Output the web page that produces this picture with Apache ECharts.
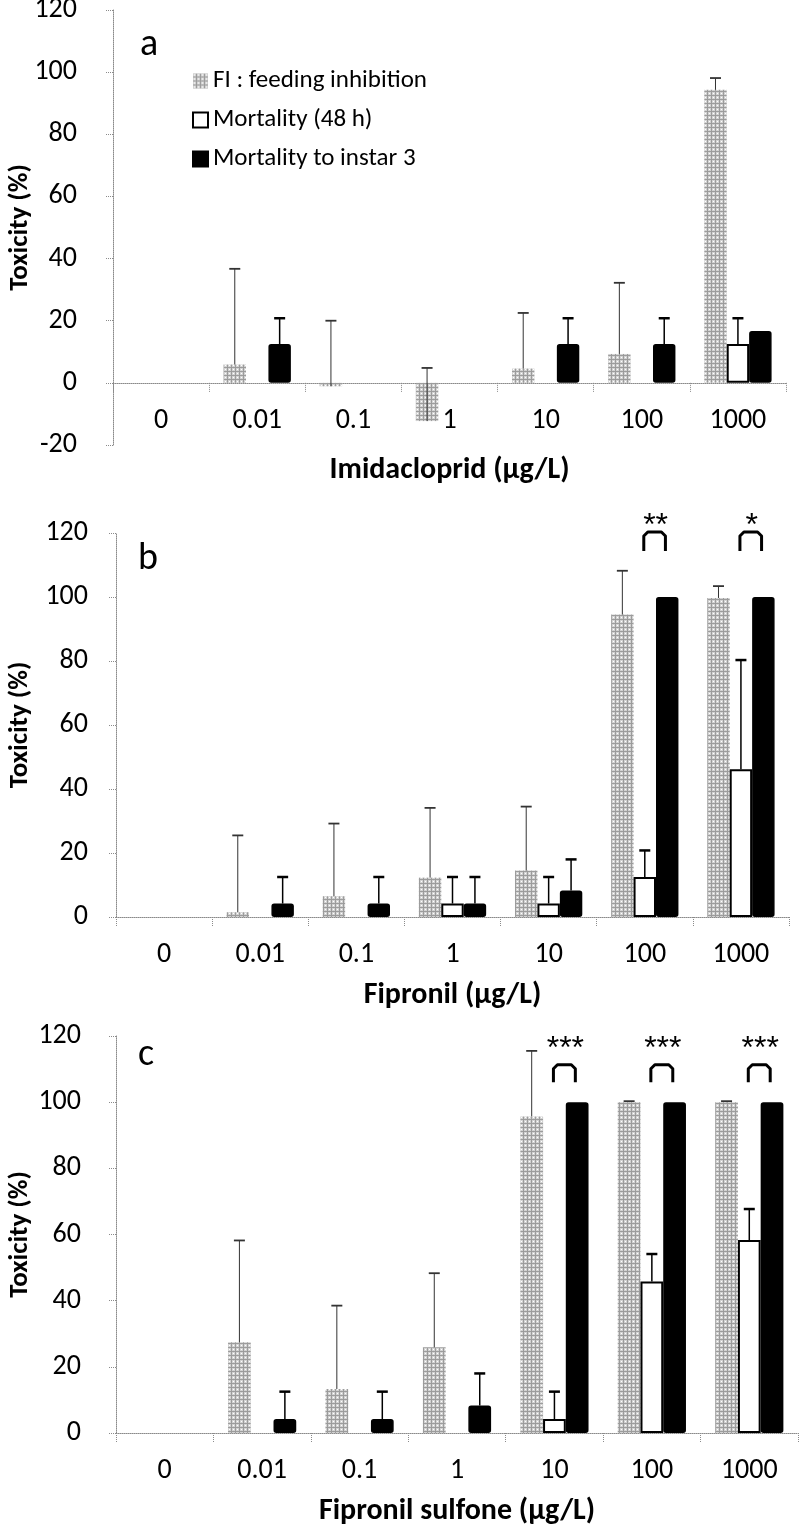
<!DOCTYPE html>
<html><head><meta charset="utf-8">
<script src="https://cdn.jsdelivr.net/npm/echarts@6/dist/echarts.min.js"></script>
<style>html,body{margin:0;padding:0;background:#fff}#c{width:800px;height:1530px}</style>
</head><body><div id="c"></div>
<script>
// ---------- data ----------
const categories = ['0', '0.01', '0.1', '1', '10', '100', '1000'];
const seriesNames = ['FI : feeding inhibition', 'Mortality (48 h)', 'Mortality to instar 3'];
const panelLetters = ['a', 'b', 'c'];
const xTitles = ['Imidacloprid (µg/L)', 'Fipronil (µg/L)', 'Fipronil sulfone (µg/L)'];
const yTitle = 'Toxicity (%)';

// Panel a — Imidacloprid
const fiA = [0, 5.9, -1.1, -12.3, 4.6, 9.3, 94.3];
const fiAErr = [null, 30.8, 21.1, 17.1, 17.9, 22.9, 3.8];
const m48A = [0, 0, 0, 0, 0, 0, 12.5];
const m48AErr = [null, null, null, null, null, null, 8.3];
const mI3A = [0, 12.5, 0, 0, 12.5, 12.5, 16.7];
const mI3AErr = [null, 8.3, null, null, 8.3, 8.3, null];

// Panel b — Fipronil
const fiB = [0, 1.5, 6.5, 12.3, 14.5, 94.5, 99.7];
const fiBErr = [null, 24.0, 22.7, 21.8, 20.0, 13.7, 3.7];
const m48B = [0, 0, 0, 4.2, 4.2, 12.5, 46.2];
const m48BErr = [null, null, null, 8.3, 8.3, 8.3, 34.1];
const mI3B = [0, 4.2, 4.2, 4.2, 8.3, 100, 100];
const mI3BErr = [null, 8.3, 8.3, 8.3, 9.7, null, null];
const sigB = ['', '', '', '', '', '**', '*'];

// Panel c — Fipronil sulfone
const fiC = [0, 27.4, 13.3, 25.9, 95.7, 100, 100];
const fiCErr = [null, 30.8, 25.2, 22.4, 19.8, 0.3, 0.3];
const m48C = [0, 0, 0, 0, 4.2, 45.8, 58.3];
const m48CErr = [null, null, null, null, 8.3, 8.3, 9.4];
const mI3C = [0, 4.2, 4.2, 8.3, 100, 100, 100];
const mI3CErr = [null, 8.3, 8.3, 9.7, null, null, null];
const sigC = ['', '', '', '', '***', '***', '***'];

// ---------- styling / layout ----------
const FONT = "Carlito, Lato, 'Open Sans', sans-serif";
const pat = document.createElement('canvas');
pat.width = 4; pat.height = 4;
(function () {
  const g = pat.getContext('2d');
  g.fillStyle = '#9c9c9c'; g.fillRect(0, 0, 4, 4);
  g.fillStyle = '#d2d2d2'; g.fillRect(0, 0, 3, 3);
  g.fillStyle = '#ffffff'; g.fillRect(1, 1, 1, 1);
})();
const fiColor = { image: pat, repeat: 'repeat' };

const panels = [
  { fi: fiA, fiE: fiAErr, m48: m48A, m48E: m48AErr, mi3: mI3A, mi3E: mI3AErr, sig: null,
    grid: { left: 113, right: 14, top: 10, height: 435 }, min: -20, labelMargin: 36, xLabelMargin: -38, xNameGap: 10, letterPos: [140, 26], sigLv: null },
  { fi: fiB, fiE: fiBErr, m48: m48B, m48E: m48BErr, mi3: mI3B, mi3E: mI3BErr, sig: sigB,
    grid: { left: 116, right: 11, top: 533, height: 384 }, min: 0, labelMargin: 28, xLabelMargin: 24, xNameGap: 63, letterPos: [138, 540], sigLv: [114.4, 120.3, 124.5] },
  { fi: fiC, fiE: fiCErr, m48: m48C, m48E: m48CErr, mi3: mI3C, mi3E: mI3CErr, sig: sigC,
    grid: { left: 116, right: 2, top: 1036, height: 397 }, min: 0, labelMargin: 35, xLabelMargin: 24, xNameGap: 63, letterPos: [138, 1036], sigLv: [106, 111.3, 118.5] }
];
const yTitleX = 20;

const dotted = { color: '#8a8a8a', type: 'dotted', width: 1 };

function barWidthOf(api) { return api.size([1, 0])[0] * 0.7 / 3; }

function errRender(k, color, lw, capLw, capW) {
  return function (params, api) {
    const ci = api.value(0), v = api.value(1), e = api.value(2);
    const p0 = api.coord([ci, v]);
    const p1 = api.coord([ci, v + e]);
    const x = p0[0] + k * barWidthOf(api);
    return { type: 'group', children: [
      { type: 'line', shape: { x1: x, y1: p0[1], x2: x, y2: p1[1] }, style: { stroke: color, lineWidth: lw } },
      { type: 'line', shape: { x1: x - capW / 2, y1: p1[1], x2: x + capW / 2, y2: p1[1] }, style: { stroke: color, lineWidth: capLw } }
    ] };
  };
}

function sigRender(labels, lv) {
  return function (params, api) {
    const ci = api.value(0);
    const bw = barWidthOf(api);
    const c = api.coord([ci, lv[1]]);
    const x1 = c[0] - 1, x2 = c[0] + bw * 0.92;
    const yb = api.coord([ci, lv[0]])[1];
    const yt = c[1];
    const ys = api.coord([ci, lv[2]])[1];
    return { type: 'group', children: [
      { type: 'polyline', shape: { points: [[x1, yb], [x1, yt + 4], [x1 + 4, yt], [x2 - 4, yt], [x2, yt + 4], [x2, yb]] },
        style: { stroke: '#000', lineWidth: 3, fill: null, lineJoin: 'round' } },
      { type: 'text', style: { text: labels[ci], x: (x1 + x2) / 2 + 1, y: ys + 8, align: 'center', verticalAlign: 'middle',
        fontSize: 32, fontFamily: "'Liberation Sans', sans-serif", fill: '#000' } }
    ] };
  };
}

function errData(vals, errs) {
  const out = [];
  vals.forEach((v, i) => { if (errs[i] != null) out.push([i, v, errs[i]]); });
  return out;
}
function zeroless(vals) {
  return vals.map(v => v === 0 ? { value: 0, itemStyle: { borderWidth: 0 } } : v);
}

const grids = [], xAxes = [], yAxes = [], series = [], graphics = [];
panels.forEach((p, i) => {
  grids.push(Object.assign({ containLabel: false, outerBoundsMode: 'none' }, p.grid));
  xAxes.push({
    type: 'category', gridIndex: i, data: categories,
    axisLine: { onZero: true, lineStyle: dotted },
    axisTick: { show: true, length: 10, lineStyle: dotted },
    axisLabel: { margin: p.xLabelMargin, fontSize: 28, color: '#000', fontFamily: FONT },
    name: xTitles[i], nameLocation: 'middle', nameGap: p.xNameGap,
    nameTextStyle: { fontSize: 30, fontWeight: 'bold', color: '#000', fontFamily: FONT, verticalAlign: 'top' },
    splitLine: { show: false }
  });
  yAxes.push({
    type: 'value', gridIndex: i, min: p.min, max: 120, interval: 20,
    axisLine: { show: true, onZero: false, lineStyle: dotted },
    axisTick: { show: true, length: 7, lineStyle: dotted },
    axisLabel: { margin: p.labelMargin, fontSize: 28, color: '#000', fontFamily: FONT },
    splitLine: { show: false }
  });
  const common = { type: 'bar', xAxisIndex: i, yAxisIndex: i, barGap: '0%', barCategoryGap: '30%' };
  series.push(Object.assign({ name: seriesNames[0], data: p.fi, itemStyle: { color: fiColor } }, common));
  series.push(Object.assign({ name: seriesNames[1], data: zeroless(p.m48), itemStyle: { color: '#fff', borderColor: '#000', borderWidth: 2 } }, common));
  series.push(Object.assign({ name: seriesNames[2], data: zeroless(p.mi3), itemStyle: { color: '#000', borderColor: '#000', borderWidth: 1.5, borderRadius: 2 } }, common));
  series.push({ type: 'custom', xAxisIndex: i, yAxisIndex: i, renderItem: errRender(-1, '#333', 1, 1.8, 11), data: errData(p.fi, p.fiE), z: 5, silent: true });
  series.push({ type: 'custom', xAxisIndex: i, yAxisIndex: i, renderItem: errRender(0, '#000', 1.5, 2.5, 11), data: errData(p.m48, p.m48E), z: 5, silent: true });
  series.push({ type: 'custom', xAxisIndex: i, yAxisIndex: i, renderItem: errRender(1, '#000', 1.5, 2.5, 11), data: errData(p.mi3, p.mi3E), z: 5, silent: true });
  if (p.sig) {
    const sd = [];
    p.sig.forEach((s, j) => { if (s) sd.push([j]); });
    series.push({ type: 'custom', xAxisIndex: i, yAxisIndex: i, renderItem: sigRender(p.sig, p.sigLv), data: sd, clip: false, z: 6, silent: true });
  }
  graphics.push({ type: 'text', left: p.letterPos[0], top: p.letterPos[1],
    style: { text: panelLetters[i], fontSize: 38, fontFamily: FONT, fill: '#000' } });
  graphics.push({ type: 'text', x: yTitleX, y: p.grid.top + p.grid.height / 2, rotation: Math.PI / 2,
    style: { text: yTitle, fontSize: 27, fontWeight: 'bold', fontFamily: FONT, fill: '#000', align: 'center', verticalAlign: 'middle' } });
});

const chart = echarts.init(document.getElementById('c'), null, { renderer: 'canvas' });
chart.setOption({
  animation: false,
  backgroundColor: '#fff',
  textStyle: { fontFamily: FONT },
  grid: grids, xAxis: xAxes, yAxis: yAxes, series: series,
  legend: {
    data: seriesNames, orient: 'vertical', left: 187, top: 62,
    itemWidth: 15, itemHeight: 15, itemGap: 11,
    textStyle: { fontSize: 25, lineHeight: 28, color: '#000', fontFamily: FONT }, icon: 'rect',
    selectedMode: false
  },
  graphic: graphics
});
</script>
</body></html>
